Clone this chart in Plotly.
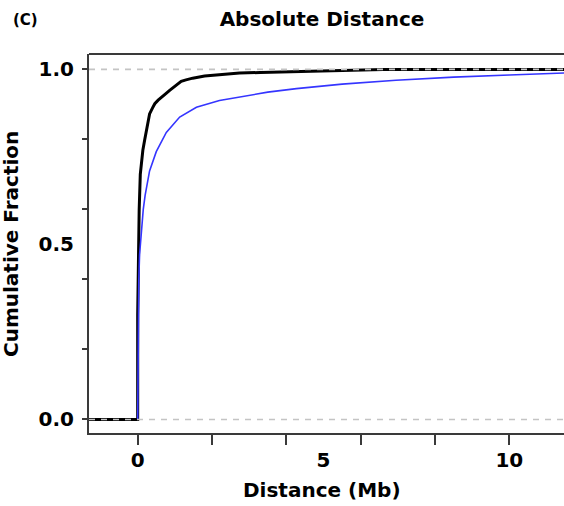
import plotly.graph_objects as go

# ---- data ----
# observed ECDF (black)
obs_x = [0.0, 0.0, 0.01, 0.02, 0.04, 0.07, 0.10, 0.14, 0.19, 0.25, 0.32, 0.40, 0.46, 0.55, 0.64,
         0.75, 0.86, 1.0, 1.17, 1.3, 1.48, 1.8, 2.2, 2.74, 3.3, 4.0, 5.0, 6.0, 6.5, 6.6]
obs_y = [0.0, 0.30, 0.43, 0.52, 0.60, 0.70, 0.74, 0.77, 0.80, 0.84, 0.873, 0.89, 0.902, 0.912, 0.921,
         0.930, 0.940, 0.953, 0.966, 0.970, 0.975, 0.981, 0.985, 0.990, 0.991, 0.993, 0.995, 0.997, 0.998, 1.0]
# expected / background distribution (blue)
exp_x = [0.0, 0.005, 0.01, 0.02, 0.03, 0.05, 0.1, 0.15, 0.2, 0.32, 0.5, 0.77, 1.13, 1.58, 2.2,
         2.74, 3.5, 4.27, 5.5, 6.95, 8.5, 10.0, 11.5]
exp_y = [0.0, 0.10, 0.20, 0.32, 0.40, 0.47, 0.55, 0.60, 0.64, 0.71, 0.765, 0.82, 0.864, 0.892,
         0.911, 0.921, 0.935, 0.945, 0.958, 0.969, 0.978, 0.984, 0.990]

x_minor_ticks = [0, 2, 4, 6, 8, 10]
x_label_vals = [0, 5, 10]
x_label_text = ["0", "5", "10"]
y_minor_ticks = [0, 0.2, 0.4, 0.6, 0.8, 1.0]
y_label_vals = [0, 0.5, 1.0]
y_label_text = ["0.0", "0.5", "1.0"]

X_RANGE = [-1.31, 11.47]
Y_RANGE = [-0.0386, 1.044]

FONT = "DejaVu Sans"
AX = "#3a3a3a"

# plot-area geometry in pixels
W, H = 564, 506
L, R, T, B = 89, 0, 54, 73
PW, PH = W - L - R, H - T - B


def px_x(p):
    return (p - L) / PW


def px_y(p):
    return (H - B - p) / PH


fig = go.Figure()

# black ECDF, extended flat to the axis limits (as in R's ecdf plot)
bx = [X_RANGE[0]] + obs_x + [X_RANGE[1]]
by = [obs_y[0]] + obs_y + [obs_y[-1]]
fig.add_trace(go.Scatter(x=bx, y=by, mode="lines", line=dict(color="black", width=3),
                         showlegend=False, hoverinfo="skip"))
fig.add_trace(go.Scatter(x=exp_x, y=exp_y, mode="lines", line=dict(color="#3535ff", width=1.6),
                         showlegend=False, hoverinfo="skip"))

# gray dashed reference lines at 0 and 1 (drawn on top)
for yv in (0, 1):
    fig.add_shape(type="line", xref="paper", x0=0, x1=1, yref="y", y0=yv, y1=yv,
                  line=dict(color="#c4c4c4", width=1.6, dash="6px,6px"), layer="above")

# top frame line
fig.add_shape(type="line", xref="paper", x0=0, x1=1, yref="paper", y0=1, y1=1,
              line=dict(color=AX, width=2), layer="above")

tickfont = dict(family=FONT, size=20, color="black", weight="bold")
titlefont = dict(family=FONT, size=20, color="black", weight="bold")

fig.update_layout(
    width=W, height=H,
    margin=dict(l=L, r=R, t=T, b=B),
    paper_bgcolor="white", plot_bgcolor="white",
    title=dict(text="Absolute Distance", x=322 / W, xanchor="center", y=1 - 19 / H, yanchor="middle",
               font=titlefont),
    xaxis=dict(range=X_RANGE, tickvals=x_minor_ticks, showticklabels=False, ticks="outside",
               ticklen=10, tickwidth=2, tickcolor=AX, showline=True, linecolor=AX, linewidth=2,
               showgrid=False, zeroline=False),
    xaxis2=dict(range=X_RANGE, overlaying="x", side="bottom", matches="x", tickvals=x_label_vals,
                ticktext=x_label_text, ticks="outside", ticklen=9, tickcolor="rgba(0,0,0,0)",
                tickfont=tickfont, showgrid=False, zeroline=False, showline=False),
    yaxis=dict(range=Y_RANGE, tickvals=y_minor_ticks, showticklabels=False, ticks="outside",
               ticklen=5, tickwidth=2, tickcolor=AX, showline=True, linecolor=AX, linewidth=2,
               showgrid=False, zeroline=False),
    yaxis2=dict(range=Y_RANGE, overlaying="y", side="left", matches="y", tickvals=y_label_vals,
                ticktext=y_label_text, ticks="outside", ticklen=10, tickcolor="rgba(0,0,0,0)",
                tickfont=tickfont, showgrid=False, zeroline=False, showline=False),
)

fig.add_annotation(text="Distance (Mb)", xref="paper", yref="paper", x=px_x(322), y=px_y(490),
                   xanchor="center", yanchor="middle", showarrow=False, font=titlefont)
fig.add_annotation(text="Cumulative Fraction", xref="paper", yref="paper", x=px_x(11), y=px_y(244),
                   xanchor="center", yanchor="middle", textangle=-90, showarrow=False, font=titlefont)
fig.add_annotation(text="(C)", xref="paper", yref="paper", x=px_x(26), y=px_y(20),
                   xanchor="center", yanchor="middle", showarrow=False,
                   font=dict(family=FONT, size=15, color="black", weight="bold"))

# invisible trace so the label axes are drawn
fig.add_trace(go.Scatter(x=[X_RANGE[0]], y=[Y_RANGE[0]], xaxis="x2", yaxis="y2", mode="markers",
                         marker=dict(opacity=0), showlegend=False, hoverinfo="skip"))

fig.write_html("out.html")
